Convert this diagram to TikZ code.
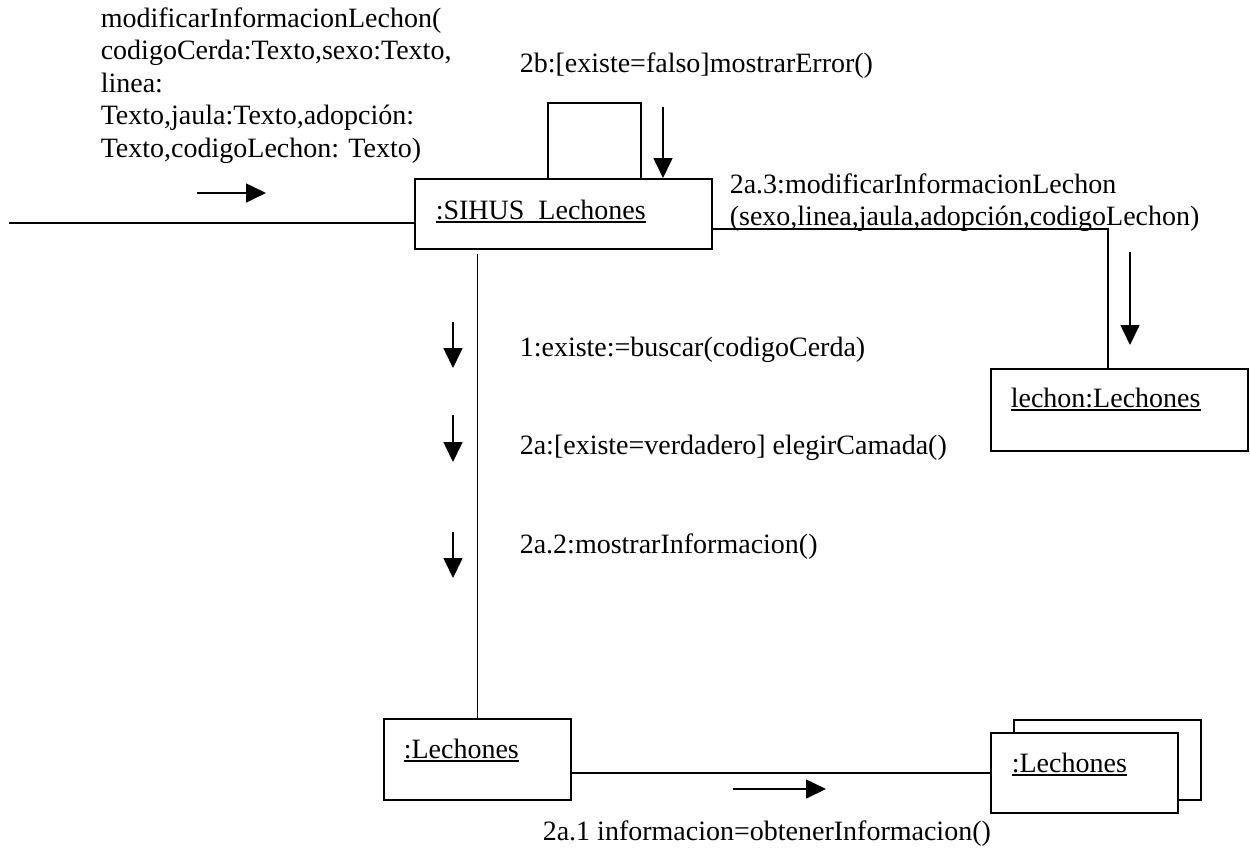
\documentclass[tikz,border=0pt]{standalone}
\usepackage{fontspec}
\setmainfont{Liberation Serif}
\usetikzlibrary{arrows.meta}
\newcommand\uln[1]{\setbox0\hbox{#1}\rlap{\rule[-3.5pt]{\wd0}{1.6pt}}\box0}
\begin{document}
\begin{tikzpicture}[x=1pt,y=-1pt,line width=1.6pt,
  objbox/.style={draw,inner sep=0pt,anchor=north west},
  txt/.style={inner sep=0pt,anchor=base west,font=\fontsize{28}{32.5}\selectfont},
  msg/.style={-{Triangle[length=20pt,width=19pt]}}]
\useasboundingbox (0,0) rectangle (1250,855);

% object boxes
\node[objbox,minimum width=297pt,minimum height=70pt] (sihus) at (414,178) {};
\node[objbox,minimum width=257pt,minimum height=82pt] (lechon) at (990,368) {};
\node[objbox,minimum width=187pt,minimum height=81pt] (low) at (383,718) {};
\node[objbox,minimum width=187pt,minimum height=80pt] (multiback) at (1013,719) {};
\node[objbox,fill=white,minimum width=187pt,minimum height=80pt] (multi) at (990,732) {};

% object names
\node[txt] (sihusname) at (435,219) {\uln{:SIHUS\_Lechones}};
\node[txt] (lechonname) at (1010,407) {\uln{lechon:Lechones}};
\node[txt] (lowname) at (403,758) {\uln{:Lechones}};
\node[txt] (multiname) at (1011,772) {\uln{:Lechones}};

% links
\coordinate (actor) at (9,223);
\draw (actor) -- (actor -| sihus.west);
\draw ([xshift=-15.5pt]sihus.north) -- ++(0,-75) -| ([xshift=77.5pt]sihus.north);
\draw ([yshift=-15pt]sihus.east) -| ([xshift=-11.5pt]lechon.north);
\draw ([yshift=-4pt]low.north |- sihus.south) -- (low.north);
\draw (low.east |- multi.west) -- (multi.west);

% message arrows
\coordinate (a0s) at (197,193); \coordinate (a0e) at (266,193);
\draw[msg] (a0s) -- (a0e);
\coordinate (b2s) at (663,107);
\draw[msg] (b2s) -- (b2s |- sihus.north);
\coordinate (a3s) at (1130,252); \coordinate (a3e) at (1130,345);
\draw[msg] (a3s) -- (a3e);
\coordinate (m1s) at (453,322); \coordinate (m1e) at (453,368);
\draw[msg] (m1s) -- (m1e);
\coordinate (m2s) at (453,415); \coordinate (m2e) at (453,462);
\draw[msg] (m2s) -- (m2e);
\coordinate (m3s) at (453,532); \coordinate (m3e) at (453,578);
\draw[msg] (m3s) -- (m3e);
\coordinate (a1s) at (733,789); \coordinate (a1e) at (826,789);
\draw[msg] (a1s) -- (a1e);

% message labels
\begin{scope}
\clip (0,0) rectangle (700,162);
\node[txt] (lbl0) at (100,27) {\begin{tabular}[t]{@{}l@{}}modificarInformacionLechon(\\codigoCerda:Texto,sexo:Texto,\\linea:\\Texto,jaula:Texto,adopción:\\Texto,codigoLechon: Texto)\end{tabular}};
\end{scope}
\node[txt] (lbl2b) at (519,72) {2b:[existe=falso]mostrarError()};
\node[txt] (lbl2a3) at (729,193) {\begin{tabular}[t]{@{}l@{}}2a.3:modificarInformacionLechon\\(sexo,linea,jaula,adopción,codigoLechon)\end{tabular}};
\node[txt] (lbl1) at (519,356) {1:existe:=buscar(codigoCerda)};
\node[txt] (lbl2a) at (519,454) {2a:[existe=verdadero] elegirCamada()};
\node[txt] (lbl2a2) at (519,553) {2a.2:mostrarInformacion()};
\node[txt] (lbl2a1) at (542,840) {2a.1 informacion=obtenerInformacion()};
\end{tikzpicture}
\end{document}
